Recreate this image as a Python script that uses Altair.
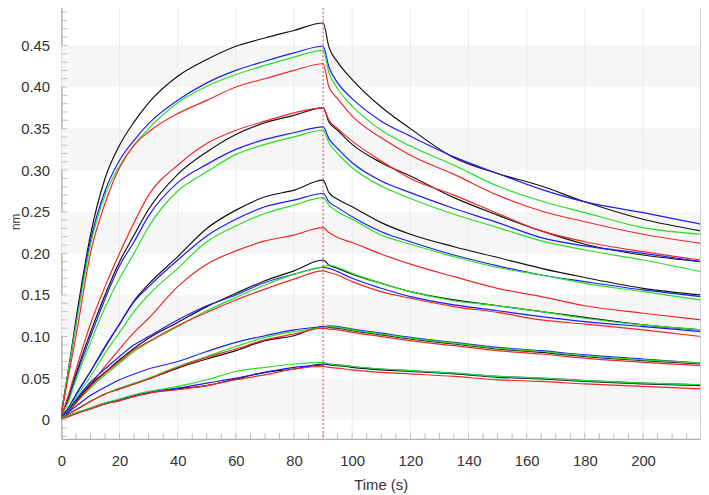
import altair as alt
import pandas as pd

# time points (s)
T = [0, 2, 5, 10, 15, 20, 25, 30, 40, 50, 60, 70, 80, 90,
     92, 95, 100, 110, 120, 135, 150, 165, 180, 200, 220]

# group 1 (highest concentration)
G1_BLACK = [0.008, 0.05, 0.12, 0.222, 0.29, 0.330, 0.358, 0.381, 0.413, 0.433, 0.449, 0.459, 0.468, 0.477,
            0.448, 0.430, 0.409, 0.376, 0.350, 0.315, 0.296, 0.281, 0.262, 0.241, 0.227]
G1_BLUE = [0.008, 0.05, 0.115, 0.215, 0.275, 0.312, 0.336, 0.356, 0.384, 0.405, 0.420, 0.431, 0.441, 0.449,
           0.424, 0.405, 0.386, 0.359, 0.341, 0.316, 0.296, 0.277, 0.262, 0.249, 0.235]
G1_GREEN = [0.008, 0.05, 0.113, 0.210, 0.27, 0.305, 0.330, 0.350, 0.381, 0.401, 0.415, 0.426, 0.436, 0.444,
            0.417, 0.398, 0.377, 0.348, 0.329, 0.306, 0.281, 0.263, 0.249, 0.231, 0.223]
G1_RED = [0.008, 0.045, 0.10, 0.200, 0.26, 0.303, 0.330, 0.346, 0.368, 0.384, 0.400, 0.410, 0.420, 0.428,
          0.400, 0.386, 0.365, 0.339, 0.318, 0.295, 0.270, 0.251, 0.238, 0.223, 0.212]
# group 2
G2_BLACK = [0.005, 0.022, 0.055, 0.105, 0.15, 0.19, 0.222, 0.253, 0.295, 0.322, 0.343, 0.357, 0.366, 0.375,
            0.358, 0.348, 0.331, 0.309, 0.293, 0.267, 0.246, 0.227, 0.211, 0.198, 0.190]
G2_BLUE = [0.005, 0.02, 0.052, 0.10, 0.145, 0.185, 0.214, 0.245, 0.285, 0.307, 0.325, 0.337, 0.345, 0.352,
           0.338, 0.326, 0.309, 0.287, 0.273, 0.254, 0.237, 0.219, 0.209, 0.200, 0.190]
G2_GREEN = [0.005, 0.018, 0.048, 0.093, 0.135, 0.17, 0.200, 0.232, 0.275, 0.298, 0.319, 0.331, 0.340, 0.348,
            0.333, 0.320, 0.303, 0.281, 0.266, 0.247, 0.231, 0.215, 0.204, 0.192, 0.178]
G2_RED = [0.005, 0.025, 0.06, 0.115, 0.16, 0.20, 0.237, 0.270, 0.306, 0.332, 0.348, 0.359, 0.369, 0.375,
          0.360, 0.350, 0.335, 0.311, 0.290, 0.270, 0.248, 0.227, 0.214, 0.202, 0.192]
# group 3
G3_BLACK = [0.004, 0.012, 0.03, 0.058, 0.087, 0.115, 0.143, 0.163, 0.196, 0.230, 0.252, 0.268, 0.276, 0.288,
            0.273, 0.265, 0.256, 0.237, 0.223, 0.208, 0.195, 0.182, 0.171, 0.158, 0.150]
G3_BLUE = [0.004, 0.012, 0.03, 0.058, 0.088, 0.115, 0.142, 0.160, 0.192, 0.221, 0.241, 0.256, 0.264, 0.272,
           0.262, 0.255, 0.244, 0.226, 0.214, 0.198, 0.185, 0.174, 0.166, 0.156, 0.148]
G3_GREEN = [0.004, 0.01, 0.027, 0.052, 0.080, 0.105, 0.130, 0.150, 0.182, 0.214, 0.233, 0.248, 0.258, 0.267,
            0.258, 0.250, 0.241, 0.222, 0.211, 0.196, 0.183, 0.174, 0.164, 0.154, 0.144]
G3_RED = [0.003, 0.008, 0.02, 0.042, 0.064, 0.085, 0.105, 0.122, 0.160, 0.187, 0.203, 0.215, 0.222, 0.231,
          0.225, 0.219, 0.213, 0.199, 0.187, 0.172, 0.158, 0.148, 0.137, 0.128, 0.120]
# group 4
G4_BLACK = [0.003, 0.008, 0.022, 0.042, 0.057, 0.072, 0.086, 0.098, 0.117, 0.136, 0.152, 0.167, 0.179, 0.192,
            0.186, 0.182, 0.175, 0.164, 0.154, 0.144, 0.137, 0.130, 0.123, 0.114, 0.108]
G4_BLUE = [0.003, 0.01, 0.024, 0.045, 0.061, 0.076, 0.090, 0.100, 0.120, 0.137, 0.150, 0.165, 0.175, 0.183,
           0.182, 0.178, 0.170, 0.158, 0.148, 0.138, 0.131, 0.124, 0.118, 0.112, 0.106]
G4_GREEN = [0.003, 0.008, 0.02, 0.038, 0.054, 0.068, 0.082, 0.093, 0.112, 0.131, 0.147, 0.162, 0.175, 0.184,
            0.186, 0.183, 0.176, 0.164, 0.154, 0.143, 0.137, 0.130, 0.122, 0.114, 0.108]
G4_RED = [0.002, 0.008, 0.02, 0.040, 0.056, 0.070, 0.084, 0.094, 0.113, 0.129, 0.144, 0.157, 0.169, 0.179,
          0.177, 0.174, 0.166, 0.154, 0.146, 0.136, 0.129, 0.120, 0.115, 0.108, 0.100]
# group 5
G5_BLACK = [0.002, 0.006, 0.012, 0.022, 0.031, 0.037, 0.043, 0.049, 0.062, 0.073, 0.083, 0.095, 0.101, 0.112,
            0.111, 0.110, 0.107, 0.102, 0.097, 0.091, 0.085, 0.081, 0.076, 0.071, 0.067]
G5_BLUE = [0.003, 0.008, 0.016, 0.029, 0.039, 0.048, 0.055, 0.061, 0.070, 0.082, 0.093, 0.101, 0.108, 0.112,
           0.113, 0.112, 0.109, 0.104, 0.099, 0.093, 0.087, 0.083, 0.078, 0.073, 0.068]
G5_GREEN = [0.003, 0.006, 0.012, 0.022, 0.031, 0.038, 0.044, 0.050, 0.064, 0.076, 0.088, 0.099, 0.106, 0.111,
            0.112, 0.111, 0.108, 0.103, 0.098, 0.092, 0.086, 0.082, 0.077, 0.072, 0.068]
G5_RED = [0.002, 0.006, 0.012, 0.022, 0.031, 0.037, 0.043, 0.049, 0.063, 0.075, 0.085, 0.096, 0.103, 0.110,
          0.109, 0.108, 0.105, 0.100, 0.095, 0.089, 0.083, 0.079, 0.074, 0.069, 0.065]
# group 6 (lowest concentration)
G6_BLACK = [0.002, 0.004, 0.008, 0.013, 0.019, 0.023, 0.028, 0.032, 0.037, 0.041, 0.049, 0.057, 0.061, 0.067,
            0.066, 0.065, 0.063, 0.060, 0.058, 0.055, 0.051, 0.049, 0.046, 0.043, 0.041]
G6_BLUE = [0.002, 0.004, 0.008, 0.014, 0.020, 0.024, 0.029, 0.033, 0.038, 0.044, 0.050, 0.057, 0.063, 0.066,
           0.067, 0.066, 0.064, 0.061, 0.059, 0.056, 0.052, 0.050, 0.047, 0.044, 0.042]
G6_GREEN = [0.002, 0.004, 0.008, 0.014, 0.020, 0.025, 0.030, 0.034, 0.040, 0.048, 0.058, 0.063, 0.067, 0.069,
            0.067, 0.066, 0.064, 0.061, 0.059, 0.056, 0.052, 0.050, 0.047, 0.044, 0.042]
G6_RED = [0.001, 0.003, 0.007, 0.013, 0.019, 0.023, 0.028, 0.032, 0.036, 0.041, 0.048, 0.054, 0.061, 0.064,
          0.063, 0.062, 0.060, 0.057, 0.055, 0.052, 0.048, 0.046, 0.043, 0.040, 0.037]

SERIES = [
    ("G1", "black", G1_BLACK), ("G1", "blue", G1_BLUE), ("G1", "green", G1_GREEN), ("G1", "red", G1_RED),
    ("G2", "black", G2_BLACK), ("G2", "blue", G2_BLUE), ("G2", "green", G2_GREEN), ("G2", "red", G2_RED),
    ("G3", "black", G3_BLACK), ("G3", "blue", G3_BLUE), ("G3", "green", G3_GREEN), ("G3", "red", G3_RED),
    ("G4", "black", G4_BLACK), ("G4", "blue", G4_BLUE), ("G4", "green", G4_GREEN), ("G4", "red", G4_RED),
    ("G5", "black", G5_BLACK), ("G5", "blue", G5_BLUE), ("G5", "green", G5_GREEN), ("G5", "red", G5_RED),
    ("G6", "black", G6_BLACK), ("G6", "blue", G6_BLUE), ("G6", "green", G6_GREEN), ("G6", "red", G6_RED),
]
COLOR_NAMES = ["black", "blue", "green", "red"]
COLOR_HEX = ["#111111", "#1c1cf0", "#25e025", "#f02626"]

Y_TICKS = [0, 0.05, 0.10, 0.15, 0.20, 0.25, 0.30, 0.35, 0.40, 0.45]
X_TICKS = [0, 20, 40, 60, 80, 100, 120, 140, 160, 180, 200]
BAND_LO = [0.0, 0.10, 0.20, 0.30, 0.40]
BAND_HI = [0.05, 0.15, 0.25, 0.35, 0.45]
X_MINOR = list(range(0, 220, 5))
Y_MINOR = [round(i * 0.01, 2) for i in range(-2, 50)]
SWITCH_T = [90]

X_DOMAIN = [0, 219.6]
Y_DOMAIN = [-0.023, 0.5]
W, H = 646, 440

rows = []
for g, c, vals in SERIES:
    for t, v in zip(T, vals):
        rows.append({"t": t, "v": v, "series": f"{g}-{c}", "color": c})
df = pd.DataFrame(rows)

xs = alt.Scale(domain=X_DOMAIN, nice=False, zero=False)
ys = alt.Scale(domain=Y_DOMAIN, nice=False, zero=False)
FONT = "Liberation Sans"

X_AXIS = alt.Axis(values=X_TICKS, grid=False, ticks=False, labelFlush=False,
                  labelOverlap=False, labelPadding=15, titlePadding=9)
Y_AXIS = alt.Axis(values=Y_TICKS, grid=False, ticks=False, labelFlush=False,
                  labelOverlap=False, labelPadding=12,
                  labelExpr="datum.value == 0 ? '0' : format(datum.value, '.2f')",
                  titleX=-42.5, titleBaseline="alphabetic", titleFontSize=12)
XT = "Time (s)"
YT = "nm"

# every layer shares the same axis definition (axis=None in any layer would disable it)
bands = alt.Chart(pd.DataFrame({"lo": BAND_LO, "hi": BAND_HI})).mark_rect(color="#f6f6f6").encode(
    y=alt.Y("lo:Q", scale=ys, title=YT, axis=Y_AXIS), y2="hi:Q", x=alt.value(0), x2=alt.value(W))

grid = alt.Chart(pd.DataFrame({"gx": X_TICKS[1:]})).mark_rule(color="#ebebeb", strokeWidth=1).encode(
    x=alt.X("gx:Q", scale=xs, title=XT, axis=X_AXIS))

xminor = alt.Chart(pd.DataFrame({"mx": X_MINOR})).mark_rule(color="#bdbdbd").encode(
    x=alt.X("mx:Q", scale=xs, title=XT, axis=X_AXIS), y=alt.value(H - 6), y2=alt.value(H))

yminor = alt.Chart(pd.DataFrame({"my": Y_MINOR})).mark_rule(color="#bdbdbd").encode(
    y=alt.Y("my:Q", scale=ys, title=YT, axis=Y_AXIS), x=alt.value(0), x2=alt.value(6))

lines = alt.Chart(df).mark_line(strokeWidth=1.2, clip=True, interpolate="monotone").encode(
    x=alt.X("t:Q", scale=xs, title=XT, axis=X_AXIS),
    y=alt.Y("v:Q", scale=ys, title=YT, axis=Y_AXIS),
    color=alt.Color("color:N", scale=alt.Scale(domain=COLOR_NAMES, range=COLOR_HEX), legend=None),
    detail="series:N",
)

switch = alt.Chart(pd.DataFrame({"st": SWITCH_T})).mark_rule(
    color="#e8342c", strokeDash=[2, 2], strokeWidth=1).encode(
    x=alt.X("st:Q", scale=xs, title=XT, axis=X_AXIS))

chart = alt.layer(bands, grid, xminor, yminor, lines, switch).properties(
    width=W, height=H,
    autosize=alt.AutoSizeParams(type="none"),
    padding={"left": 54, "top": -7, "right": 1, "bottom": 54},
).configure_view(stroke="#cfcfcf", strokeWidth=1).configure_axis(
    domainColor="#a8a8a8", labelColor="#333333", titleColor="#333333",
    labelFont=FONT, titleFont=FONT, labelFontSize=15, titleFontSize=15, titleFontWeight="normal",
)

chart.save("out.html", embed_options={"renderer": "svg", "actions": False})
